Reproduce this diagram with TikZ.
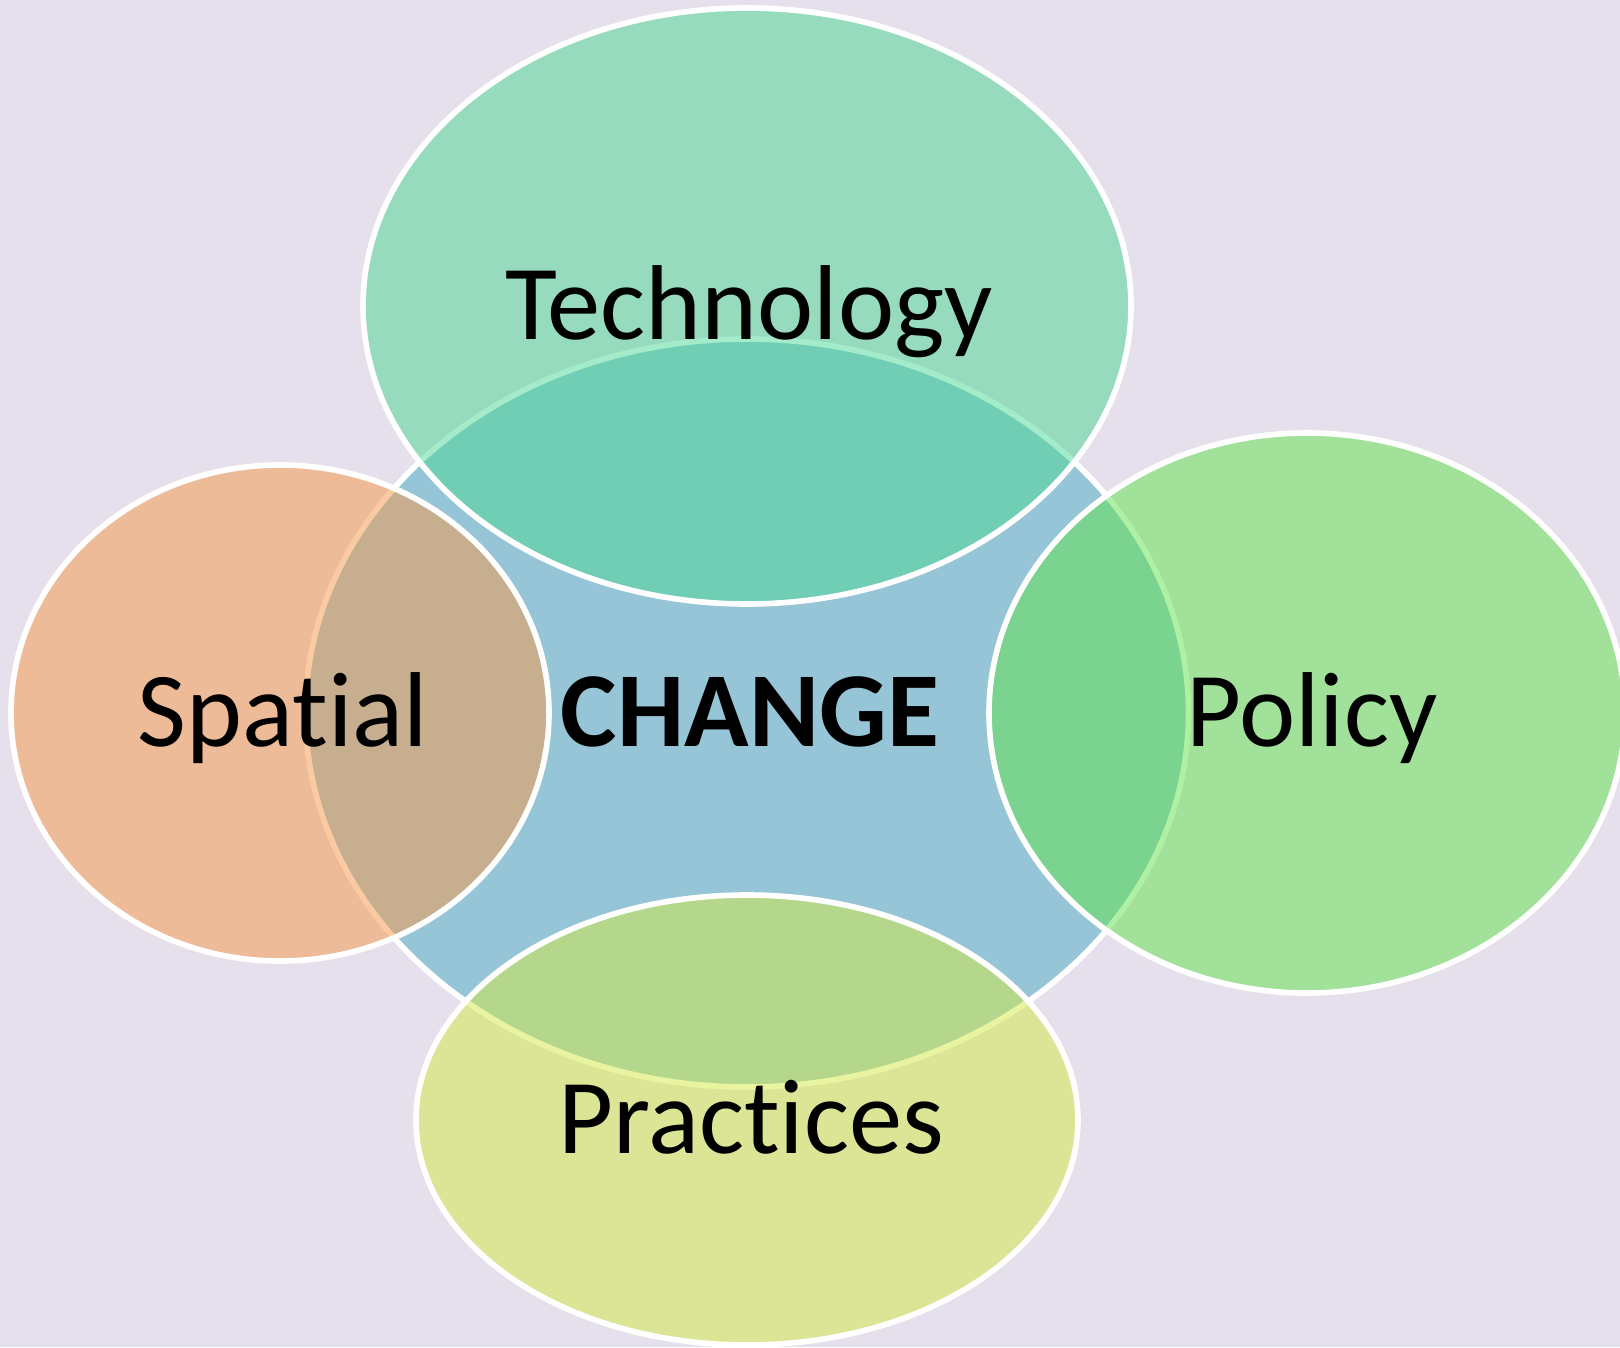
\documentclass[tikz,border=0pt]{standalone}
\usepackage{fontspec}
\setmainfont{Carlito}[Ligatures=NoCommon]
\definecolor{bgcol}{RGB}{230,224,236}
\definecolor{changecol}{RGB}{151,197,216}
\definecolor{techcol}{RGB}{74,216,148}
\definecolor{spatialcol}{RGB}{246,152,72}
\definecolor{policycol}{RGB}{96,226,74}
\definecolor{practicecol}{RGB}{212,234,66}
\begin{document}
\begin{tikzpicture}[
	blob/.style={draw=white, line width=1.6pt},
	over/.style={blob, fill opacity=0.5},
	word/.style={anchor=base, inner sep=0pt, font=\fontsize{30.3}{36}\selectfont}
]
	\clip (0,0) rectangle (16.2,13.47);
	\fill[bgcol] (0,0) rectangle (16.2,13.47);
	\draw[blob, fill=changecol] (7.47,6.34) ellipse [x radius=4.415, y radius=3.74];
	\draw[over, fill=techcol] (7.47,10.41) ellipse [x radius=3.84, y radius=2.98];
	\draw[over, fill=spatialcol] (2.80,6.34) ellipse [x radius=2.69, y radius=2.48];
	\draw[over, fill=policycol] (13.07,6.34) ellipse [x radius=3.18, y radius=2.80];
	\draw[over, fill=practicecol] (7.47,2.27) ellipse [x radius=3.31, y radius=2.25];
	\node[word] (tech) at (7.49,10.075) {Technology};
	\node[word] (spatial) at (2.83,6.005) {Spatial};
	\node[word, font=\fontsize{30.3}{36}\selectfont\bfseries] (change) at (7.50,6.005) {CHANGE};
	\node[word] (policy) at (13.12,6.005) {Policy};
	\node[word] (practice) at (7.51,1.935) {Practices};
\end{tikzpicture}
\end{document}
